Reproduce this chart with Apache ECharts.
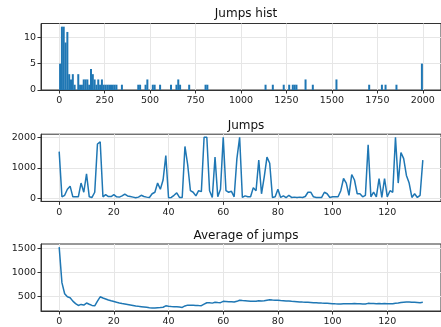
<!DOCTYPE html>
<html>
<head>
<meta charset="utf-8">
<script src="https://cdn.jsdelivr.net/npm/echarts@6/dist/echarts.min.js"></script>
<style>
  html, body { margin: 0; padding: 0; background: #fff; }
  #chart { width: 441px; height: 327px; }
</style>
</head>
<body>
<div id="chart"></div>
<script>
// histogram bins (start of each 10-wide bin) and counts
const binStarts = [0, 10, 20, 30, 40, 50, 60, 70, 80, 100, 110, 120, 130, 140, 150, 160, 170, 180, 190, 200,
  210, 220, 230, 240, 250, 260, 270, 280, 290, 300, 310, 340, 430, 440, 470, 480, 510, 520, 550, 610,
  640, 650, 660, 710, 800, 810, 1130, 1170, 1230, 1260, 1280, 1290, 1300, 1350, 1390, 1520, 1700, 1770,
  1790, 1850, 1990];
const binCounts = [5, 12, 12, 9, 11, 3, 2, 3, 1, 3, 1, 1, 2, 2, 2, 1, 4, 3, 2, 1,
  2, 1, 2, 1, 1, 1, 1, 1, 1, 1, 1, 1, 1, 1, 1, 2, 1, 1, 1, 1,
  1, 2, 1, 1, 1, 1, 1, 1, 1, 1, 1, 1, 1, 2, 1, 2, 1, 1,
  1, 1, 5];

// jump per step
const jumps = [1530, 50, 100, 300, 400, 50, 50, 50, 500, 200, 800, 50, 30, 200, 1780, 1850, 50, 120, 60, 60,
  120, 50, 40, 80, 140, 80, 60, 40, 20, 40, 100, 60, 40, 30, 150, 200, 500, 300, 600, 1400,
  20, 30, 100, 180, 30, 30, 1700, 1100, 250, 200, 80, 250, 220, 2000, 2000, 250, 30, 1350, 50, 300,
  2000, 250, 200, 230, 50, 1300, 2000, 30, 80, 50, 50, 350, 250, 1250, 150, 700, 1350, 1150, 30, 50,
  300, 30, 80, 20, 100, 30, 40, 30, 40, 30, 60, 200, 200, 50, 30, 30, 30, 200, 150, 30,
  50, 50, 50, 250, 650, 500, 100, 780, 600, 150, 150, 50, 100, 1750, 50, 200, 50, 650, 30, 650,
  50, 250, 200, 2000, 500, 1500, 1300, 750, 500, 30, 150, 30, 100, 1250];

// running average of jumps
const avgJumps = [1530, 790, 560, 495, 476, 405, 354, 316, 337, 323, 366, 340, 316, 308, 406, 496, 470, 451, 430, 412,
  398, 382, 367, 355, 346, 336, 326, 316, 306, 297, 290, 283, 276, 269, 265, 263, 270, 271, 279, 307,
  300, 294, 289, 287, 281, 275, 306, 322, 321, 318, 314, 312, 311, 342, 372, 370, 364, 381, 375, 374,
  401, 398, 395, 393, 387, 401, 425, 419, 414, 409, 404, 403, 401, 413, 409, 413, 425, 434, 429, 425,
  423, 418, 414, 410, 406, 401, 397, 393, 389, 385, 382, 380, 378, 374, 371, 367, 364, 362, 360, 357,
  353, 350, 348, 347, 350, 351, 349, 353, 355, 353, 351, 348, 346, 359, 356, 355, 352, 355, 352, 354,
  352, 351, 350, 363, 367, 376, 383, 386, 387, 382, 380, 377, 373, 381];

const histXTicks = [0, 250, 500, 750, 1000, 1250, 1500, 1750, 2000];
const histYTicks = [0, 5, 10];
const stepTicks = [0, 20, 40, 60, 80, 100, 120];
const jumpYTicks = [0, 1000, 2000];
const avgYTicks = [500, 1000, 1500];

const blue = '#1f77b4';
const font = 'DejaVu Sans';

function axis(idx, min, max, ticks, isY) {
  return {
    type: 'value',
    gridIndex: idx,
    min: min,
    max: max,
    axisLine: { show: true, onZero: false, lineStyle: { color: '#333', width: 1 } },
    axisTick: { show: true, length: 3.5, customValues: ticks, lineStyle: { color: '#333' } },
    axisLabel: {
      customValues: ticks,
      formatter: (v) => String(v),
      color: '#222',
      fontFamily: font,
      fontSize: 9.5,
      margin: isY ? 5 : 6
    },
    splitLine: { show: true, lineStyle: { color: '#e6e6e6', width: 1 } }
  };
}

const chart = echarts.init(document.getElementById('chart'), null, { renderer: 'canvas' });

const gridStyle = { show: true, borderColor: '#333', borderWidth: 1, containLabel: false };
const titleStyle = { fontFamily: font, fontSize: 12, fontWeight: 'normal', color: '#111' };

const option = {
  animation: false,
  backgroundColor: '#fff',
  title: [
    { text: 'Jumps hist', left: 241, top: 3, textAlign: 'center', textStyle: titleStyle },
    { text: 'Jumps', left: 241, top: 115, textAlign: 'center', textStyle: titleStyle },
    { text: 'Average of jumps', left: 241, top: 225, textAlign: 'center', textStyle: titleStyle }
  ],
  grid: [
    Object.assign({ left: 41, top: 23.5, width: 401, height: 66.5 }, gridStyle),
    Object.assign({ left: 41, top: 134.2, width: 403, height: 67.2 }, gridStyle),
    Object.assign({ left: 41, top: 244, width: 403, height: 67 }, gridStyle)
  ],
  xAxis: [
    axis(0, -100, 2100, histXTicks, false),
    axis(1, -6.65, 139.65, stepTicks, false),
    axis(2, -6.65, 139.65, stepTicks, false)
  ],
  yAxis: [
    axis(0, 0, 12.6, histYTicks, true),
    axis(1, -100, 2100, jumpYTicks, true),
    axis(2, 200, 1595, avgYTicks, true)
  ],
  series: [
    {
      type: 'bar',
      xAxisIndex: 0,
      yAxisIndex: 0,
      barWidth: 2,
      itemStyle: { color: blue },
      data: binStarts.map((s, i) => [s + 5, binCounts[i]])
    },
    {
      type: 'line',
      xAxisIndex: 1,
      yAxisIndex: 1,
      showSymbol: false,
      lineStyle: { color: blue, width: 1.5 },
      data: jumps.map((v, i) => [i, v])
    },
    {
      type: 'line',
      xAxisIndex: 2,
      yAxisIndex: 2,
      showSymbol: false,
      lineStyle: { color: blue, width: 1.5 },
      data: avgJumps.map((v, i) => [i, v])
    }
  ]
};

chart.setOption(option);
</script>
</body>
</html>
